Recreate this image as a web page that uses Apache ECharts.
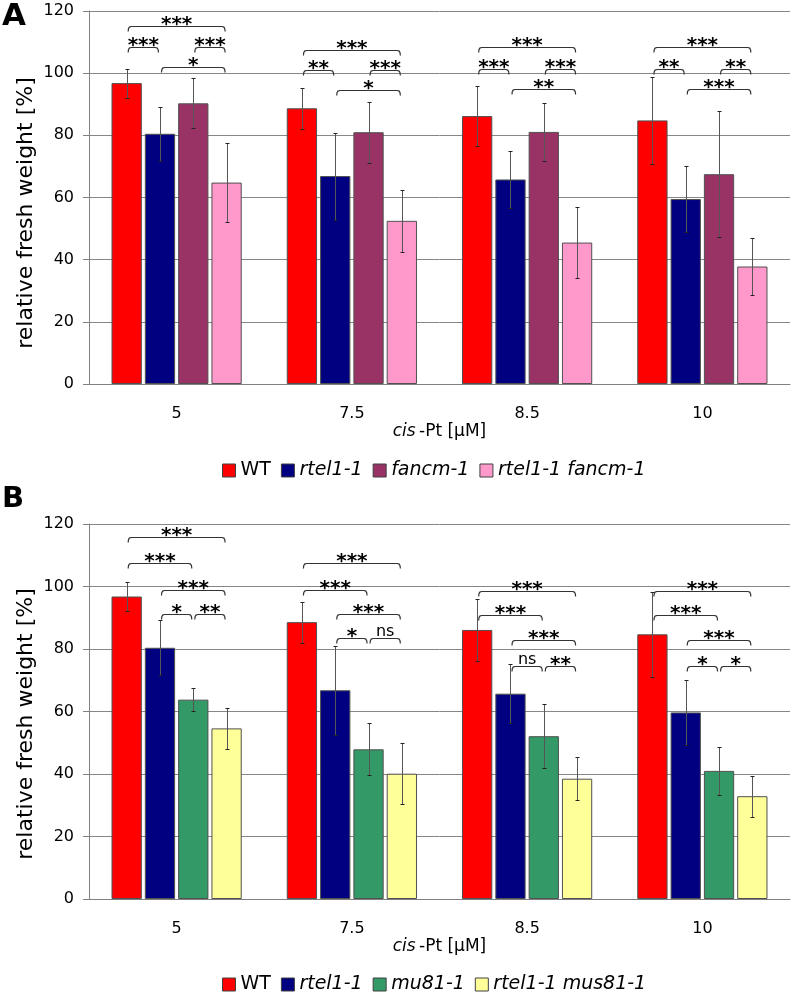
<!DOCTYPE html>
<html>
<head>
<meta charset="utf-8">
<script src="https://cdn.jsdelivr.net/npm/echarts@6/dist/echarts.min.js"></script>
<style>
html,body{margin:0;padding:0;background:#fff;}
#chart{width:793px;height:992px;}
</style>
</head>
<body>
<div id="chart"></div>
<script>
// ---------- data ----------
const categories = ['5', '7.5', '8.5', '10'];
const yTicks = [0, 20, 40, 60, 80, 100, 120];
const yAxisTitle = 'relative fresh weight [%]';

const namesA = ['WT', 'rtel1-1', 'fancm-1', 'rtel1-1 fancm-1'];
const wtA      = [96.8, 88.7, 86.2, 84.8];
const wtA_sd   = [4.7, 6.6, 9.7, 13.9];
const rtelA    = [80.5, 66.9, 65.8, 59.5];
const rtelA_sd = [8.7, 14.0, 9.3, 10.7];
const fancmA    = [90.3, 81.0, 81.1, 67.5];
const fancmA_sd = [8.0, 9.8, 9.2, 20.3];
const dblA      = [64.8, 52.5, 45.5, 37.8];
const dblA_sd   = [12.6, 9.9, 11.4, 9.2];

const namesB = ['WT', 'rtel1-1', 'mu81-1', 'rtel1-1 mus81-1'];
const wtB      = [96.8, 88.6, 86.1, 84.7];
const wtB_sd   = [4.7, 6.6, 9.9, 13.6];
const rtelB    = [80.4, 66.8, 65.7, 59.7];
const rtelB_sd = [8.8, 14.2, 9.4, 10.3];
const musB     = [63.8, 47.9, 52.1, 41.0];
const musB_sd  = [3.6, 8.3, 10.2, 7.8];
const dblB     = [54.6, 40.1, 38.5, 32.9];
const dblB_sd  = [6.6, 9.7, 6.8, 6.6];

// significance brackets: [category, fromBar, toBar, yValue, label]
const sigA = [
  [0,0,3,115.2,'***'],[0,0,1,108.4,'***'],[0,2,3,108.4,'***'],[0,1,3,102.0,'*'],
  [1,0,3,107.6,'***'],[1,0,1,100.9,'**'],[1,2,3,100.9,'***'],[1,1,3,94.7,'*'],
  [2,0,3,108.5,'***'],[2,0,1,101.3,'***'],[2,2,3,101.3,'***'],[2,1,3,94.8,'**'],
  [3,0,3,108.5,'***'],[3,0,1,101.3,'**'],[3,2,3,101.3,'**'],[3,1,3,94.8,'***']
];
const sigB = [
  [0,0,3,115.8,'***'],[0,0,2,107.5,'***'],[0,1,3,98.9,'***'],[0,1,2,91.2,'*'],[0,2,3,91.2,'**'],
  [1,0,3,107.5,'***'],[1,0,2,98.9,'***'],[1,1,3,91.2,'***'],[1,1,2,83.5,'*'],[1,2,3,83.5,'ns'],
  [2,0,3,98.7,'***'],[2,0,2,91.0,'***'],[2,1,3,82.9,'***'],[2,1,2,74.6,'ns'],[2,2,3,74.6,'**'],
  [3,0,3,98.7,'***'],[3,0,2,91.0,'***'],[3,1,3,82.9,'***'],[3,1,2,74.6,'*'],[3,2,3,74.6,'*']
];

// ---------- styles ----------
const FONT = '"DejaVu Sans", sans-serif';
const colorsA = ['#FF0000', '#000080', '#993366', '#FF99CC'];
const colorsB = ['#FF0000', '#000080', '#339966', '#FFFF99'];
const CAT_GAP = 0.257, BAR_GAP = 0.10, NBARS = 4;

function barOffset(band, s) {
  const w = band * (1 - CAT_GAP) / (NBARS + (NBARS - 1) * BAR_GAP);
  const total = NBARS * w + (NBARS - 1) * BAR_GAP * w;
  return -total / 2 + s * w * (1 + BAR_GAP) + w / 2;
}

function errData(vals, sds) {
  const out = [];
  vals.forEach((arr, s) => arr.forEach((v, c) => out.push([c, v - sds[s][c], v + sds[s][c], s])));
  return out;
}

function errRender(params, api) {
  const c = api.value(0), lo = api.value(1), hi = api.value(2), s = api.value(3);
  const band = api.size([1, 0])[0];
  const pt = api.coord([c, hi]), pb = api.coord([c, lo]);
  const x = Math.round(pt[0] + barOffset(band, s)) + 0.5;
  const yt = Math.round(pt[1]) + 0.5, yb = Math.round(pb[1]) + 0.5;
  return {
    type: 'group',
    children: [
      {type: 'line', shape: {x1: x, y1: yt, x2: x, y2: yb}, style: {stroke: '#555', lineWidth: 1}},
      {type: 'line', shape: {x1: x - 2, y1: yt, x2: x + 2, y2: yt}, style: {stroke: '#222', lineWidth: 1}},
      {type: 'line', shape: {x1: x - 2, y1: yb, x2: x + 2, y2: yb}, style: {stroke: '#222', lineWidth: 1}}
    ]
  };
}

function sigRenderFactory(sig) {
  return function (params, api) {
    const s = sig[params.dataIndex];
    const band = api.size([1, 0])[0];
    const p = api.coord([s[0], s[3]]);
    const x1 = p[0] + barOffset(band, s[1]) + 1.5;
    const x2 = p[0] + barOffset(band, s[2]) - 1.5;
    const y = Math.round(p[1]) + 0.5;
    const h = 5;
    const pts = [[x1, y + h], [x1 + 0.3, y + 2.2], [x1 + 1.2, y + 0.6], [x1 + 3, y],
                 [x2 - 3, y], [x2 - 1.2, y + 0.6], [x2 - 0.3, y + 2.2], [x2, y + h]];
    const isNs = s[4] === 'ns';
    return {
      type: 'group',
      children: [
        {type: 'polyline', shape: {points: pts}, style: {stroke: '#333', lineWidth: 1.2, fill: null}},
        {type: 'text', style: isNs ? {
            text: s[4], x: (x1 + x2) / 2, y: y + 1, align: 'center', verticalAlign: 'bottom',
            fontSize: 16, fontFamily: FONT, fill: '#000'
          } : {
            text: s[4], x: (x1 + x2) / 2, y: y - 2, align: 'center', verticalAlign: 'middle',
            fontSize: 20, fontWeight: 'bold', fontFamily: FONT, fill: '#000'
          }}
      ]
    };
  };
}

function xAxis(gi) {
  return {
    type: 'category', gridIndex: gi, data: categories,
    axisLine: {lineStyle: {color: '#808080', width: 1}},
    axisTick: {length: 6, lineStyle: {color: '#808080'}},
    axisLabel: {fontSize: 16, fontFamily: FONT, color: '#000', margin: 22},
    name: '{i|cis} {n|-Pt [µM]}', nameLocation: 'middle', nameGap: 36,
    nameTextStyle: {rich: {
      i: {fontSize: 17, fontFamily: FONT, fontStyle: 'italic', color: '#000'},
      n: {fontSize: 17, fontFamily: FONT, color: '#000'}
    }}
  };
}
function yAxis(gi) {
  return {
    type: 'value', gridIndex: gi, min: yTicks[0], max: yTicks[yTicks.length - 1], interval: yTicks[1] - yTicks[0],
    axisLine: {show: true, lineStyle: {color: '#808080', width: 1}},
    axisTick: {show: true, length: 6, lineStyle: {color: '#808080'}},
    axisLabel: {fontSize: 16, fontFamily: FONT, color: '#000', margin: 15},
    splitLine: {lineStyle: {color: '#868686', width: 1}}
  };
}

function bars(names, vals, colors, gi) {
  return names.map((n, i) => ({
    type: 'bar', name: n, xAxisIndex: gi, yAxisIndex: gi, data: vals[i],
    barGap: (BAR_GAP * 100) + '%', barCategoryGap: (CAT_GAP * 100) + '%',
    itemStyle: {color: colors[i], borderColor: '#505050', borderWidth: 1},
    emphasis: {disabled: true}
  }));
}

function legend(names, top) {
  return {
    data: names, left: 217, top: top, icon: 'rect', itemWidth: 13, itemHeight: 13, itemGap: 10,
    itemStyle: {borderColor: '#404040', borderWidth: 1},
    formatter: n => n === 'WT' ? '{r|' + n + '}' : '{i|' + n + '}',
    textStyle: {fontSize: 19, fontFamily: FONT, color: '#000', rich: {
      r: {fontSize: 19, fontFamily: FONT, color: '#000'},
      i: {fontSize: 19, fontFamily: FONT, color: '#000', fontStyle: 'italic'}
    }},
    selectedMode: false
  };
}

function yTitle(cy) {
  return {
    type: 'text', x: 26, y: cy, rotation: Math.PI / 2, silent: true,
    style: {text: yAxisTitle, align: 'center', verticalAlign: 'middle', fontSize: 22, fontFamily: FONT, fill: '#000'}
  };
}

const valsA = [wtA, rtelA, fancmA, dblA], sdsA = [wtA_sd, rtelA_sd, fancmA_sd, dblA_sd];
const valsB = [wtB, rtelB, musB, dblB], sdsB = [wtB_sd, rtelB_sd, musB_sd, dblB_sd];

const chart = echarts.init(document.getElementById('chart'), null, {renderer: 'canvas'});
chart.setOption({
  animation: false,
  backgroundColor: '#fff',
  title: [
    {text: 'A', left: -3, top: -4, textStyle: {fontSize: 31, fontWeight: 'bold', fontFamily: FONT, color: '#000'}},
    {text: 'B', left: -3, top: 480, textStyle: {fontSize: 29, fontWeight: 'bold', fontFamily: FONT, color: '#000'}}
  ],
  grid: [
    {left: 89, top: 11, width: 701, height: 373},
    {left: 89, top: 524, width: 701, height: 375}
  ],
  graphic: [yTitle(213), yTitle(724)],
  legend: [legend(namesA, 456), legend(namesB, 970)],
  xAxis: [xAxis(0), xAxis(1)],
  yAxis: [yAxis(0), yAxis(1)],
  series: [
    ...bars(namesA, valsA, colorsA, 0),
    ...bars(namesB, valsB, colorsB, 1),
    {type: 'custom', xAxisIndex: 0, yAxisIndex: 0, data: errData(valsA, sdsA), renderItem: errRender, encode: {x: 0, y: [1, 2]}, z: 5, silent: true},
    {type: 'custom', xAxisIndex: 1, yAxisIndex: 1, data: errData(valsB, sdsB), renderItem: errRender, encode: {x: 0, y: [1, 2]}, z: 5, silent: true},
    {type: 'custom', xAxisIndex: 0, yAxisIndex: 0, data: sigA.map(s => [s[0], s[3]]), renderItem: sigRenderFactory(sigA), encode: {x: 0, y: 1}, z: 6, silent: true, clip: false},
    {type: 'custom', xAxisIndex: 1, yAxisIndex: 1, data: sigB.map(s => [s[0], s[3]]), renderItem: sigRenderFactory(sigB), encode: {x: 0, y: 1}, z: 6, silent: true, clip: false}
  ]
});
</script>
</body>
</html>
